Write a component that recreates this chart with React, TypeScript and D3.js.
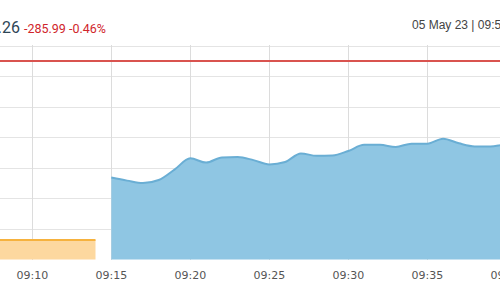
import React from "react";
import * as d3 from "d3";

const W = 500;
const H = 300;

// Intraday index values (one per minute)
const sessionTimes = [
  "09:15", "09:16", "09:17", "09:18", "09:19", "09:20", "09:21", "09:22", "09:23", "09:24",
  "09:25", "09:26", "09:27", "09:28", "09:29", "09:30", "09:31", "09:32", "09:33", "09:34",
  "09:35", "09:36", "09:37", "09:38", "09:39", "09:40", "09:41",
];
const sessionValues = [
  61368, 61358, 61350, 61360, 61394, 61431, 61417, 61434, 61435, 61425,
  61411, 61419, 61447, 61439, 61440, 61455, 61475, 61475, 61468, 61479,
  61479, 61495, 61480, 61470, 61470, 61476, 61472,
];
// Pre-open session
const preOpenTimes = ["09:00", "09:14"];
const preOpenValues = [61164, 61164];

const previousClose = 61749.25;
const yTicks = [61100, 61200, 61300, 61400, 61500, 61600, 61700, 61800];
const xTickLabels = ["09:10", "09:15", "09:20", "09:25", "09:30", "09:35", "09:40"];

const lastValueText = "61,463.26";
const changeText = "-285.99 -0.46%";
const dateText = "05 May 23 | 09:50";

const parse = (s: string) => {
  const [h, m] = s.split(":").map(Number);
  return new Date(2023, 4, 5, h, m);
};

export default function App() {
  const x = d3.scaleTime()
    .domain([parse("09:08"), parse("09:40")])
    .range([0.7, 506.3]);
  const y = d3.scaleLinear().domain([61100, 61800]).range([259.5, 45.5]);

  const session = sessionTimes.map((t, i) => ({ t: parse(t), v: sessionValues[i] }));
  const preOpen = preOpenTimes.map((t, i) => ({ t: parse(t), v: preOpenValues[i] }));

  const area = d3.area<{ t: Date; v: number }>()
    .x((d) => x(d.t))
    .y0(y(61100))
    .y1((d) => y(d.v))
    .curve(d3.curveMonotoneX);
  const line = d3.line<{ t: Date; v: number }>()
    .x((d) => x(d.t))
    .y((d) => y(d.v))
    .curve(d3.curveMonotoneX);

  const preArea = d3.area<{ t: Date; v: number }>()
    .x((d) => x(d.t))
    .y0(y(61100))
    .y1((d) => y(d.v));
  const preLine = d3.line<{ t: Date; v: number }>()
    .x((d) => x(d.t))
    .y((d) => y(d.v));

  return (
    <svg width={W} height={H} style={{ position: "absolute", left: 0, top: 0, background: "#fff" }}>
      <rect x={0} y={0} width={W} height={H} fill="#fff" />
      {/* header */}
      <text x={20} y={33} textAnchor="end" fontFamily="Roboto" fontSize={16} fill="#2d4656">
        {lastValueText}
      </text>
      <text x={24} y={32.5} fontFamily="Roboto" fontSize={12.5} fill="#d0252b">
        {changeText}
      </text>
      <text x={412} y={28.5} fontFamily="Liberation Sans, Arial" fontSize={12} fill="#444">
        {dateText}
      </text>

      {/* gridlines */}
      {yTicks.slice(1).map((v) => (
        <line key={v} x1={0} x2={W} y1={Math.round(y(v)) + 0.5} y2={Math.round(y(v)) + 0.5} stroke="#e4e4e4" strokeWidth={1} />
      ))}
      {xTickLabels.map((t) => (
        <line key={t} x1={Math.round(x(parse(t))) + 0.5} x2={Math.round(x(parse(t))) + 0.5} y1={45} y2={260} stroke="#dcdcdc" strokeWidth={1} />
      ))}

      {/* pre-open */}
      <path d={preArea(preOpen) || ""} fill="#fdd89f" />
      <path d={preLine(preOpen) || ""} fill="none" stroke="#f6b23e" strokeWidth={2} />

      {/* session */}
      <path d={area(session) || ""} fill="#8fc6e3" />
      <path d={line(session) || ""} fill="none" stroke="#6aaed4" strokeWidth={2} />

      {/* previous close */}
      <line x1={0} x2={W} y1={y(previousClose)} y2={y(previousClose)} stroke="#d9534f" strokeWidth={2} />

      {/* x labels */}
      {xTickLabels.map((t) => (
        <text key={t} x={x(parse(t))} y={278.5} textAnchor="middle" fontFamily="DejaVu Sans" fontSize={11} fill="#555">
          {t}
        </text>
      ))}
    </svg>
  );
}
